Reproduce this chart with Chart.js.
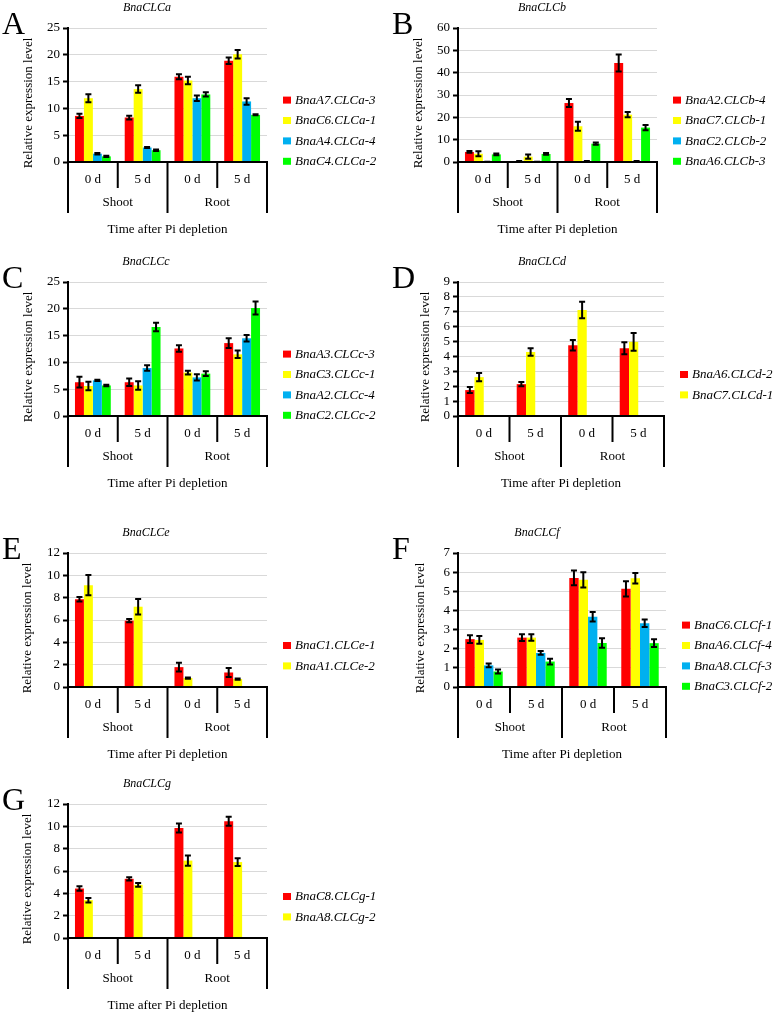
<!DOCTYPE html>
<html>
<head>
<meta charset="utf-8">
<script src="https://cdn.jsdelivr.net/npm/chart.js@4.4.1/dist/chart.umd.min.js"></script>
<style>
  body { margin: 0; background: #fff; }
  #wrap { position: relative; width: 779px; height: 1018px; overflow: hidden; }
  canvas { position: absolute; }
</style>
</head>
<body>
<div id="wrap"></div>
<script>
'use strict'

// categories
const days = ['0 d', '5 d', '0 d', '5 d'];
const tissues = ['Shoot', 'Root'];
const barColors = ['#ff0000', '#ffff00', '#00b0f0', '#00ff00'];

// A: BnaCLCa  (one row per gene, values for Shoot 0d, Shoot 5d, Root 0d, Root 5d)
const clcaGenes = ['BnaA7.CLCa-3', 'BnaC6.CLCa-1', 'BnaA4.CLCa-4', 'BnaC4.CLCa-2'];
const clcaMeans = [[8.6, 8.3, 15.9, 18.9], [11.9, 13.6, 15.2, 20.1], [1.55, 2.7, 11.9, 11.3], [1.05, 2.2, 12.6, 8.8]];
const clcaErrs  = [[0.4, 0.35, 0.45, 0.6], [0.75, 0.7, 0.7, 0.8], [0.15, 0.1, 0.5, 0.6], [0.1, 0.15, 0.4, 0.1]];

// B: BnaCLCb
const clcbGenes = ['BnaA2.CLCb-4', 'BnaC7.CLCb-1', 'BnaC2.CLCb-2', 'BnaA6.CLCb-3'];
const clcbMeans = [[4.5, 0.3, 26.4, 44.3], [3.7, 2.4, 16.0, 21.2], [0.1, 0.1, 0.3, 0.3], [3.4, 3.6, 8.2, 15.4]];
const clcbErrs  = [[0.4, 0.1, 1.8, 3.8], [1.1, 1.0, 2.0, 1.2], [0.05, 0.05, 0.1, 0.1], [0.4, 0.4, 0.5, 1.2]];

// C: BnaCLCc
const clccGenes = ['BnaA3.CLCc-3', 'BnaC3.CLCc-1', 'BnaA2.CLCc-4', 'BnaC2.CLCc-2'];
const clccMeans = [[6.3, 6.3, 12.6, 13.6], [5.6, 5.7, 8.1, 11.5], [6.65, 8.95, 7.2, 14.5], [5.7, 16.6, 7.9, 20.15]];
const clccErrs  = [[1.0, 0.7, 0.6, 0.9], [0.8, 0.8, 0.35, 0.7], [0.1, 0.5, 0.6, 0.6], [0.15, 0.8, 0.45, 1.2]];

// D: BnaCLCd
const clcdGenes = ['BnaA6.CLCd-2', 'BnaC7.CLCd-1'];
const clcdMeans = [[1.74, 2.14, 4.75, 4.55], [2.61, 4.3, 7.12, 4.98]];
const clcdErrs  = [[0.2, 0.15, 0.35, 0.4], [0.27, 0.25, 0.55, 0.6]];

// E: BnaCLCe
const clceGenes = ['BnaC1.CLCe-1', 'BnaA1.CLCe-2'];
const clceMeans = [[7.85, 5.94, 1.78, 1.3], [9.12, 7.19, 0.8, 0.71]];
const clceErrs  = [[0.2, 0.15, 0.4, 0.4], [0.9, 0.7, 0.05, 0.05]];

// F: BnaCLCf
const clcfGenes = ['BnaC6.CLCf-1', 'BnaA6.CLCf-4', 'BnaA8.CLCf-3', 'BnaC3.CLCf-2'];
const clcfMeans = [[2.5, 2.58, 5.7, 5.13], [2.46, 2.58, 5.6, 5.68], [1.13, 1.78, 3.67, 3.33], [0.81, 1.33, 2.3, 2.29]];
const clcfErrs  = [[0.2, 0.18, 0.38, 0.4], [0.2, 0.17, 0.4, 0.27], [0.1, 0.1, 0.25, 0.2], [0.1, 0.15, 0.25, 0.2]];

// G: BnaCLCg
const clcgGenes = ['BnaC8.CLCg-1', 'BnaA8.CLCg-2'];
const clcgMeans = [[4.43, 5.3, 9.85, 10.45], [3.39, 4.76, 6.93, 6.8]];
const clcgErrs  = [[0.2, 0.15, 0.4, 0.4], [0.2, 0.17, 0.45, 0.35]];

// y axis ranges per panel
const yMaxes = [25, 60, 25, 9, 12, 7, 12];
const ySteps = [5, 10, 5, 1, 2, 1, 2];

Chart.defaults.font.family = "'Liberation Serif', 'Times New Roman', serif";
Chart.defaults.color = '#000';

const wrap = document.getElementById('wrap');
const SERIF = "'Liberation Serif', 'Times New Roman', serif";

// error bars
const errorBars = {
    id: 'errorBars',
    afterDatasetsDraw(chart) {
        const ctx = chart.ctx;
        const ys = chart.scales.y;
        ctx.save();
        ctx.strokeStyle = '#000';
        ctx.lineWidth = 2;
        chart.data.datasets.forEach((ds, i) => {
            chart.getDatasetMeta(i).data.forEach((bar, j) => {
                const v = ds.data[j];
                if (v == null) return;
                const e = ds.errors[j];
                const yt = ys.getPixelForValue(v + e);
                const yb = ys.getPixelForValue(Math.max(0, v - e));
                ctx.beginPath();
                ctx.moveTo(bar.x, yt); ctx.lineTo(bar.x, yb);
                ctx.moveTo(bar.x - 3, yt); ctx.lineTo(bar.x + 3, yt);
                ctx.moveTo(bar.x - 3, yb); ctx.lineTo(bar.x + 3, yb);
                ctx.stroke();
            });
        });
        ctx.restore();
    }
};

function makeDecor(p) {
    return {
        id: 'decor',
        afterDraw(chart) {
            const ctx = chart.ctx;
            const a = chart.chartArea;
            const xs = chart.scales.x;
            const ys = chart.scales.y;
            const y0 = ys.getPixelForValue(0);
            const half = (xs.getPixelForValue(1) - xs.getPixelForValue(0)) / 2;
            ctx.save();
            ctx.strokeStyle = '#000';
            ctx.fillStyle = '#000';
            ctx.lineWidth = 2;

            // x axis + group dividers
            ctx.beginPath();
            ctx.moveTo(a.left - 1, y0); ctx.lineTo(a.right + 1, y0);
            for (let i = 0; i <= 4; i++) {
                const x = i < 4 ? xs.getPixelForValue(i) - half : xs.getPixelForValue(3) + half;
                ctx.moveTo(x, y0);
                ctx.lineTo(x, y0 + (i % 2 === 0 ? 51 : 26));
            }
            ctx.stroke();

            ctx.font = '13px ' + SERIF;
            ctx.textAlign = 'center';
            ctx.textBaseline = 'middle';
            days.forEach((d, i) => ctx.fillText(d, xs.getPixelForValue(i), y0 + 18));
            tissues.forEach((t, i) => ctx.fillText(t, xs.getPixelForValue(2 * i) + half, y0 + 41));
            ctx.fillText('Time after Pi depletion', (a.left + a.right) / 2, y0 + 68);

            // y title
            ctx.save();
            ctx.translate(p.yTitleX, 103);
            ctx.rotate(-Math.PI / 2);
            ctx.fillText('Relative expression level', 0, 0);
            ctx.restore();

            // panel title + letter
            ctx.font = 'italic 12px ' + SERIF;
            ctx.fillText(p.title, p.titleX, 8);
            ctx.font = '32px ' + SERIF;
            ctx.textAlign = 'left';
            ctx.textBaseline = 'alphabetic';
            ctx.fillText(p.letter, 2, 34);

            // legend
            const n = p.genes.length;
            ctx.font = 'italic 13px ' + SERIF;
            ctx.textBaseline = 'middle';
            p.genes.forEach((g, k) => {
                const ry = 130.7 + (k - (n - 1) / 2) * 20.4;
                ctx.fillStyle = barColors[k];
                ctx.fillRect(a.right + 16, ry - 3.5, 8, 7);
                ctx.fillStyle = '#000';
                ctx.fillText(g, a.right + 28, ry + 0.5);
            });
            ctx.restore();
        }
    };
}

function drawPanel(p) {
    const cv = document.createElement('canvas');
    cv.width = p.w;
    cv.height = 240;
    cv.style.left = p.left + 'px';
    cv.style.top = p.top + 'px';
    wrap.appendChild(cv);

    const datasets = [];
    for (let k = 0; k < 4; k++) {
        if (k < p.genes.length) {
            datasets.push({ label: p.genes[k], data: p.means[k], errors: p.errs[k], backgroundColor: barColors[k] });
        } else {
            // empty slot, keeps bar positions like the original
            datasets.push({ label: '', data: [null, null, null, null], errors: [0, 0, 0, 0], backgroundColor: 'rgba(0,0,0,0)' });
        }
    }

    new Chart(cv, {
        type: 'bar',
        data: { labels: days, datasets: datasets },
        options: {
            responsive: false,
            animation: false,
            devicePixelRatio: 1,
            layout: { padding: { left: 38, right: p.w - p.plotRight, top: 28, bottom: 78 } },
            datasets: { bar: { categoryPercentage: 0.72, barPercentage: 1, borderWidth: 0 } },
            plugins: { legend: { display: false }, tooltip: { enabled: false } },
            scales: {
                x: { display: false },
                y: {
                    min: 0,
                    max: p.yMax,
                    afterFit: (scale) => { scale.width = 30; },
                    ticks: { stepSize: p.yStep, autoSkip: false, padding: 3, color: '#000', font: { size: 13 } },
                    grid: { color: '#d9d9d9', lineWidth: 1, tickLength: 5, tickColor: '#000', tickWidth: 2 },
                    border: { color: '#000', width: 2 }
                }
            }
        },
        plugins: [errorBars, makeDecor(p)]
    });
}

const panels = [
    { letter: 'A', title: 'BnaCLCa', genes: clcaGenes, means: clcaMeans, errs: clcaErrs, left: 0,   top: 0,   w: 390, plotRight: 267, titleX: 147, yTitleX: 29 },
    { letter: 'B', title: 'BnaCLCb', genes: clcbGenes, means: clcbMeans, errs: clcbErrs, left: 390, top: 0,   w: 389, plotRight: 267, titleX: 152, yTitleX: 29 },
    { letter: 'C', title: 'BnaCLCc', genes: clccGenes, means: clccMeans, errs: clccErrs, left: 0,   top: 254, w: 390, plotRight: 267, titleX: 146, yTitleX: 29 },
    { letter: 'D', title: 'BnaCLCd', genes: clcdGenes, means: clcdMeans, errs: clcdErrs, left: 390, top: 254, w: 389, plotRight: 274, titleX: 152, yTitleX: 36 },
    { letter: 'E', title: 'BnaCLCe', genes: clceGenes, means: clceMeans, errs: clceErrs, left: 0,   top: 525, w: 390, plotRight: 267, titleX: 146, yTitleX: 28 },
    { letter: 'F', title: 'BnaCLCf', genes: clcfGenes, means: clcfMeans, errs: clcfErrs, left: 390, top: 525, w: 389, plotRight: 276, titleX: 147, yTitleX: 31 },
    { letter: 'G', title: 'BnaCLCg', genes: clcgGenes, means: clcgMeans, errs: clcgErrs, left: 0,   top: 776, w: 390, plotRight: 267, titleX: 147, yTitleX: 28 }
];

panels.forEach((p, i) => {
    p.yMax = yMaxes[i];
    p.yStep = ySteps[i];
    drawPanel(p);
});
</script>
</body>
</html>
